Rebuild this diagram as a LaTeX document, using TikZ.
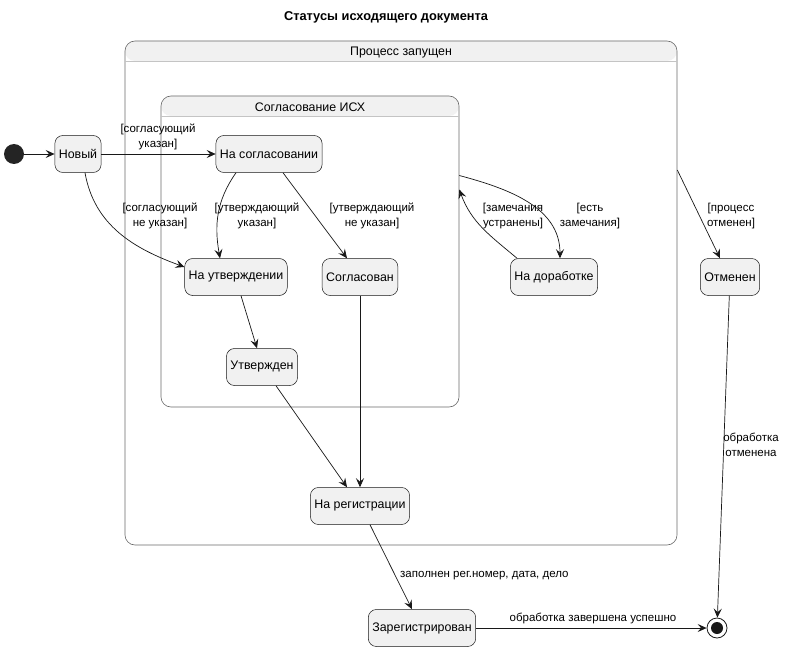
\documentclass[tikz,border=0pt]{standalone}
\usepackage{fontspec}
\setmainfont{Liberation Sans}
\usetikzlibrary{arrows.meta}
\definecolor{statefill}{HTML}{F1F1F1}
\definecolor{linecol}{HTML}{181818}
\definecolor{headcol}{HTML}{C4C4C4}

\begin{document}
\begin{tikzpicture}[x=1pt,y=1pt,
    state/.style={draw=linecol, fill=statefill, rounded corners=8pt,
        minimum height=37pt, inner xsep=4pt, line width=0.5pt,
        font=\fontsize{12.4}{15}\selectfont},
    composite/.style={draw=linecol!65, fill=white, rounded corners=10pt,
        line width=0.6pt,
        path picture={\fill[statefill] ([yshift=-#1]path picture bounding box.north west)
            rectangle (path picture bounding box.north east);}},
    lbl/.style={font=\fontsize{11.5}{15}\selectfont, align=center, inner sep=1pt},
    trans/.style={draw=linecol, line width=0.7pt,
        -{Stealth[length=9pt,width=8pt,inset=3.5pt]}}
    ]
    \useasboundingbox (0,0) rectangle (786,-652);

    % Title
    \node[font=\bfseries\fontsize{12.8}{15}\selectfont] (title) at (386,-17)
        {Статусы исходящего документа};

    % Outer composite: process started
    \node[composite=20pt, minimum width=552pt, minimum height=504pt] (proc) at (401,-293) {};
    \draw[headcol, line width=1.3pt] ([yshift=-20.5pt]proc.north west)
        -- ([yshift=-20.5pt]proc.north east);
    \node[font=\fontsize{12.4}{15}\selectfont] (proctitle) at ([yshift=-11.5pt]proc.north)
        {Процесс запущен};

    % Inner composite: approval
    \node[composite=20pt, minimum width=298pt, minimum height=311pt] (agr) at (310,-251.5) {};
    \draw[headcol, line width=1.3pt] ([yshift=-20.5pt]agr.north west)
        -- ([yshift=-20.5pt]agr.north east);
    \node[font=\fontsize{12.4}{15}\selectfont] (agrtitle) at ([yshift=-11.5pt]agr.north)
        {Согласование ИСХ};
    \coordinate (agrout) at ([yshift=76pt]agr.east);
    \coordinate (agrin) at ([yshift=62pt]agr.east);
    \coordinate (procout) at ([yshift=123pt]proc.east);

    % Initial and final states
    \node[circle, fill=linecol!95, minimum size=20pt, inner sep=0pt] (init) at (14,-154) {};
    \node[circle, draw=linecol, line width=0.8pt, minimum size=20pt, inner sep=0pt]
        (final) at (717,-628) {};
    \fill[linecol] (final) circle (6pt);

    % States
    \node[state] (new) at (78,-154) {Новый};
    \node[state] (agree) at (269,-154) {На согласовании};
    \node[state] (appr) at (236,-277) {На утверждении};
    \node[state] (agreed) at (360,-277) {Согласован};
    \node[state] (approved) at (262,-367) {Утвержден};
    \node[state] (rework) at (554,-277) {На доработке};
    \node[state] (cancel) at (730,-277) {Отменен};
    \node[state] (reg) at (360,-506) {На регистрации};
    \node[state] (regd) at (422,-628) {Зарегистрирован};

    % Transitions
    \draw[trans] (init) -- (new);
    \draw[trans] (new) -- (agree);
    \draw[trans] ([xshift=7pt]new.south) to[out=-80,in=160] ([yshift=10pt]appr.west);
    \draw[trans] ([xshift=-33pt]agree.south) to[out=-125,in=100] ([xshift=-16pt]appr.north);
    \draw[trans] ([xshift=14pt]agree.south) -- ([xshift=-13pt]agreed.north);
    \draw[trans] ([xshift=5pt]appr.south) -- ([xshift=-5pt]approved.north);
    \draw[trans] ([xshift=14pt]approved.south) -- ([xshift=-13pt]reg.north);
    \draw[trans] (agreed) -- (reg);
    \draw[trans] (agrout) to[out=-15,in=90] ([xshift=6pt]rework.north);
    \draw[trans] ([xshift=-37pt]rework.north) to[out=140,in=-70] (agrin);
    \draw[trans] (procout) -- ([xshift=-10pt]cancel.north);
    \draw[trans] (cancel) -- (final);
    \draw[trans] ([xshift=10pt]reg.south) -- ([xshift=-10pt]regd.north);
    \draw[trans] (regd) -- (final);

    % Transition labels
    \node[lbl] (lnewagree) at (158,-137) {[согласующий\\указан]};
    \node[lbl] (lnewappr) at (160,-216) {[согласующий\\не указан]};
    \node[lbl] (lagreeappr) at (257,-216) {[утверждающий\\указан]};
    \node[lbl] (lagreeok) at (372,-216) {[утверждающий\\не указан]};
    \node[lbl] (lfixed) at (513,-216) {[замечания\\устранены]};
    \node[lbl] (lremarks) at (590,-216) {[есть\\замечания]};
    \node[lbl] (lcancel) at (731,-216) {[процесс\\отменен]};
    \node[lbl] (lcancelend) at (751,-445) {обработка\\отменена};
    \node[lbl, anchor=west] (lregd) at (399,-576) {заполнен рег.номер, дата, дело};
    \node[lbl] (ldone) at (593,-618) {обработка завершена успешно};

\end{tikzpicture}
\end{document}
